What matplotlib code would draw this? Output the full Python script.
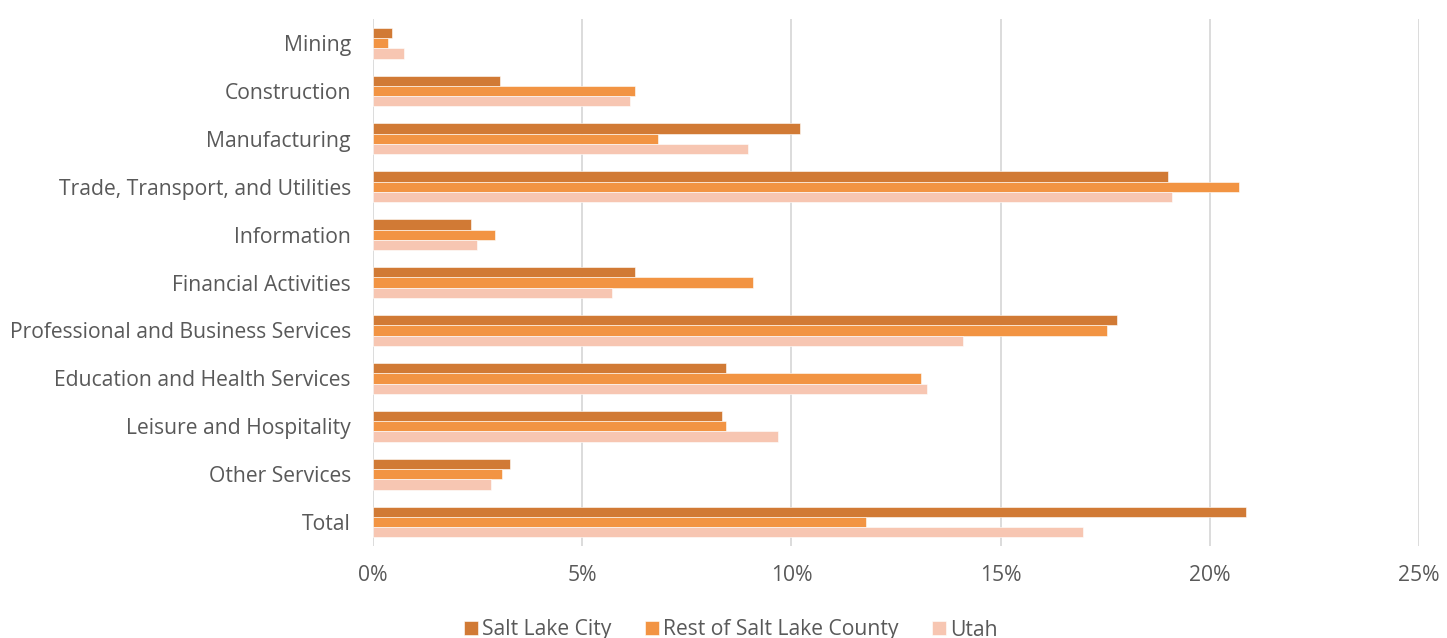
import numpy as np
import matplotlib.pyplot as plt

plt.rcParams["font.family"] = ["Open Sans", "DejaVu Sans"]

categories = [
    "Mining",
    "Construction",
    "Manufacturing",
    "Trade, Transport, and Utilities",
    "Information",
    "Financial Activities",
    "Professional and Business Services",
    "Education and Health Services",
    "Leisure and Hospitality",
    "Other Services",
    "Total",
]
salt_lake_city = [0.45, 3.04, 10.2, 19.0, 2.34, 6.27, 17.78, 8.44, 8.35, 3.28, 20.86]
rest_of_county = [0.36, 6.27, 6.8, 20.7, 2.92, 9.09, 17.54, 13.09, 8.44, 3.09, 11.79]
utah = [0.74, 6.15, 8.97, 19.1, 2.49, 5.72, 14.1, 13.25, 9.69, 2.82, 16.96]
x_ticks = [0, 5, 10, 15, 20, 25]

series = [
    ("Salt Lake City", salt_lake_city, "#D17A35"),
    ("Rest of Salt Lake County", rest_of_county, "#F29443"),
    ("Utah", utah, "#F7C6B2"),
]

fig = plt.figure(figsize=(14.47, 6.38), dpi=100)
ax = fig.add_axes([0.2578, 0.1442, 0.7229, 0.8258])

y = np.arange(len(categories))
h = 0.215
for i, (name, vals, color) in enumerate(series):
    ax.barh(y + (i - 1) * h, vals, height=h, color=color, label=name,
            edgecolor="white", linewidth=0.4, zorder=3)

ax.set_xlim(0, 25)
ax.set_ylim(len(categories) - 0.5, -0.5)
ax.set_xticks(x_ticks)
ax.set_xticklabels([f"{t}%" for t in x_ticks])
ax.set_yticks(y)
ax.set_yticklabels(categories)
ax.grid(axis="x", color="#D9D9D9", linewidth=1.3, zorder=0)
for s in ax.spines.values():
    s.set_visible(False)
ax.tick_params(axis="both", length=0, labelsize=15.2, colors="#595959")
ax.tick_params(axis="x", pad=14)
ax.tick_params(axis="y", pad=16)

fig.legend(loc="center", bbox_to_anchor=(731 / 1447, 1 - 630 / 638), ncol=3,
           frameon=False, fontsize=15.2, labelcolor="#595959",
           handlelength=0.65, handleheight=0.65, handletextpad=0.2,
           columnspacing=1.6, borderpad=0)

plt.savefig("out.png", dpi=100)
